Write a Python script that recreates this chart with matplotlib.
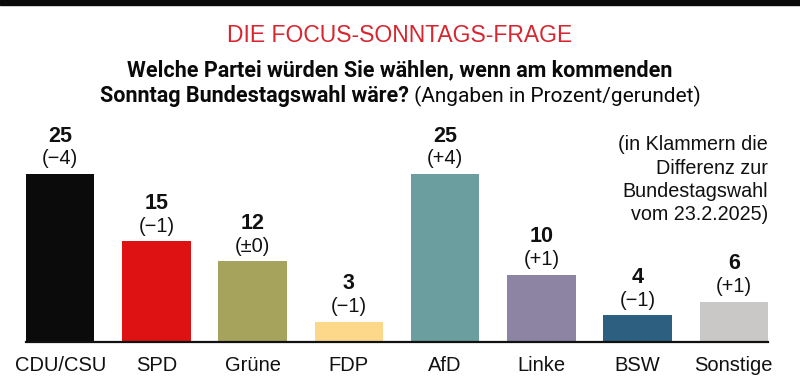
import matplotlib
matplotlib.use("Agg")
import matplotlib.pyplot as plt
from matplotlib import font_manager

parties = ["CDU/CSU", "SPD", "Grüne", "FDP", "AfD", "Linke", "BSW", "Sonstige"]
values = [25, 15, 12, 3, 25, 10, 4, 6]
changes = ["(\u22124)", "(\u22121)", "(\u00b10)", "(\u22121)", "(+4)", "(+1)", "(\u22121)", "(+1)"]
colors = ["#0b0b0b", "#de1212", "#a6a45c", "#fdd88a", "#6a9e9f", "#8c84a2", "#2c5f80", "#c9c8c7"]

title = "DIE FOCUS-SONNTAGS-FRAGE"
question_bold_1 = "Welche Partei würden Sie wählen, wenn am kommenden"
question_bold_2 = "Sonntag Bundestagswahl wäre?"
question_reg = " (Angaben in Prozent/gerundet)"
note = "(in Klammern die\nDifferenz zur\nBundestagswahl\nvom 23.2.2025)"

installed = {f.name for f in font_manager.fontManager.ttflist}
narrow = "Liberation Sans Narrow" if "Liberation Sans Narrow" in installed else "Roboto"
plt.rcParams["font.family"] = ["Liberation Sans", "DejaVu Sans"]

W, H = 800, 377
fig = plt.figure(figsize=(W / 100, H / 100), dpi=100)

# top rule
fig.patches.append(plt.Rectangle((0, 1 - 5 / H), 1, 5 / H, transform=fig.transFigure,
                                 color="#0a0a0a", zorder=5))

# axes: baseline at y=342, from x=26 to x=768
ax = fig.add_axes([26 / W, 1 - 342 / H, (768 - 26) / W, (342 - 110) / H])
x = list(range(len(parties)))
ax.bar(x, values, width=0.71, color=colors, zorder=2)
ax.set_xlim(-0.355, len(parties) - 1 + 0.355)
ax.set_ylim(0, 232 / 6.72)
for s in ["top", "right", "left"]:
    ax.spines[s].set_visible(False)
ax.spines["bottom"].set_linewidth(1.6)
ax.spines["bottom"].set_color("#111111")
ax.set_yticks([])
ax.set_xticks(x)
ax.set_xticklabels(parties, fontsize=14.5, color="#111111")
ax.tick_params(axis="x", length=0, pad=10)

for xi, v, c in zip(x, values, changes):
    ax.annotate(str(v), (xi, v), xytext=(0, 38), textcoords="offset pixels",
                ha="center", va="center", fontsize=15.5, fontweight="bold", color="#111111")
    ax.annotate(c, (xi, v), xytext=(0, 15), textcoords="offset pixels",
                ha="center", va="center", fontsize=14.5, color="#111111")

ax.text(1.0, 1 - 25 / 232, note, transform=ax.transAxes, ha="right", va="top",
        fontsize=14.2, color="#111111", linespacing=1.3)

# header
fig.text(0.5, 1 - 35 / H, title, ha="center", va="center", fontsize=16.5,
         color="#d7262f")
fig.text(0.5, 1 - 70 / H, question_bold_1, ha="center", va="center", fontsize=15.5,
         fontweight="bold", family=[narrow, "DejaVu Sans"], color="#0a0a0a")
t1 = fig.text(0, 1 - 96 / H, question_bold_2, ha="left", va="center", fontsize=15.5,
              fontweight="bold", family=[narrow, "DejaVu Sans"], color="#0a0a0a")
t2 = fig.text(0, 1 - 96 / H, question_reg, ha="left", va="center", fontsize=15,
              family=[narrow, "DejaVu Sans"], color="#0a0a0a")
fig.canvas.draw()
r = fig.canvas.get_renderer()
w1 = t1.get_window_extent(r).width
w2 = t2.get_window_extent(r).width
start = (W - w1 - w2) / 2
t1.set_x(start / W)
t2.set_x((start + w1) / W)

fig.savefig("out.png", dpi=100)
